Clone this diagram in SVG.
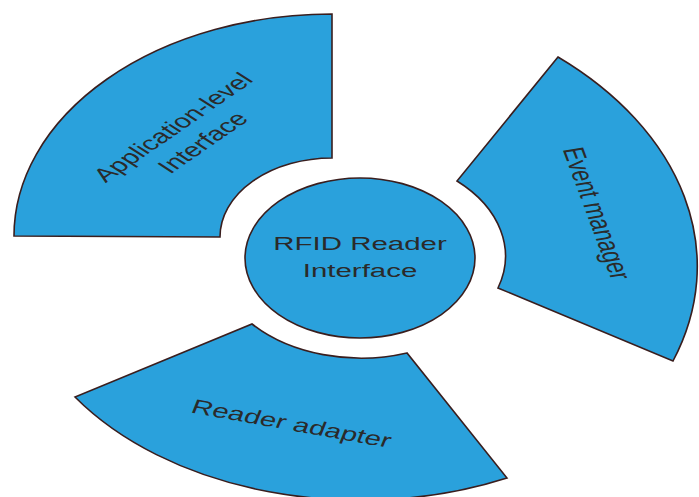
<svg xmlns="http://www.w3.org/2000/svg" width="699" height="497" viewBox="0 0 699 497">
<style>
.seg{fill:#2aa1dc;stroke:#3a1e1e;stroke-width:1.6;stroke-linejoin:miter}
.lbl{font-family:"Liberation Sans",Arial,sans-serif;fill:#2a2a2a;text-anchor:middle}
</style>
<rect width="699" height="497" fill="#ffffff"/>
<g id="app-interface">
<path class="seg" d="M332,14 L332,158 A112,79 0 0 0 220,237 L14,236 A318,222 0 0 1 332,14 Z"/>
<text class="lbl" font-size="19.6" transform="translate(180,132) scale(1.5,1) rotate(-46)">Application-level</text>
<text class="lbl" font-size="19.6" transform="translate(210,147) scale(1.5,1) rotate(-46)">Interface</text>
</g>
<g id="event-manager">
<path class="seg" d="M558,57 L457,181 A146,101 0 0 1 498,288 L673,361 A400,276 0 0 0 558,57 Z"/>
<text class="lbl" font-size="20" transform="translate(587,215) scale(1.5,1) rotate(76)">Event manager</text>
</g>
<g id="reader-adapter">
<path class="seg" d="M252,324 A145,100 0 0 0 407,353 L507,478 A345,235 0 0 1 75,397 Z"/>
<text class="lbl" font-size="19.7" transform="translate(289,430) scale(1.5,1) rotate(15)">Reader adapter</text>
</g>
<g id="rfid-reader-interface">
<ellipse class="seg" cx="360" cy="258" rx="115" ry="80"/>
<text class="lbl" font-size="19" transform="translate(360,250) scale(1.55,1)">RFID Reader</text>
<text class="lbl" font-size="19" transform="translate(360,277) scale(1.55,1)">Interface</text>
</g>
<g id="connectors"/>
</svg>
